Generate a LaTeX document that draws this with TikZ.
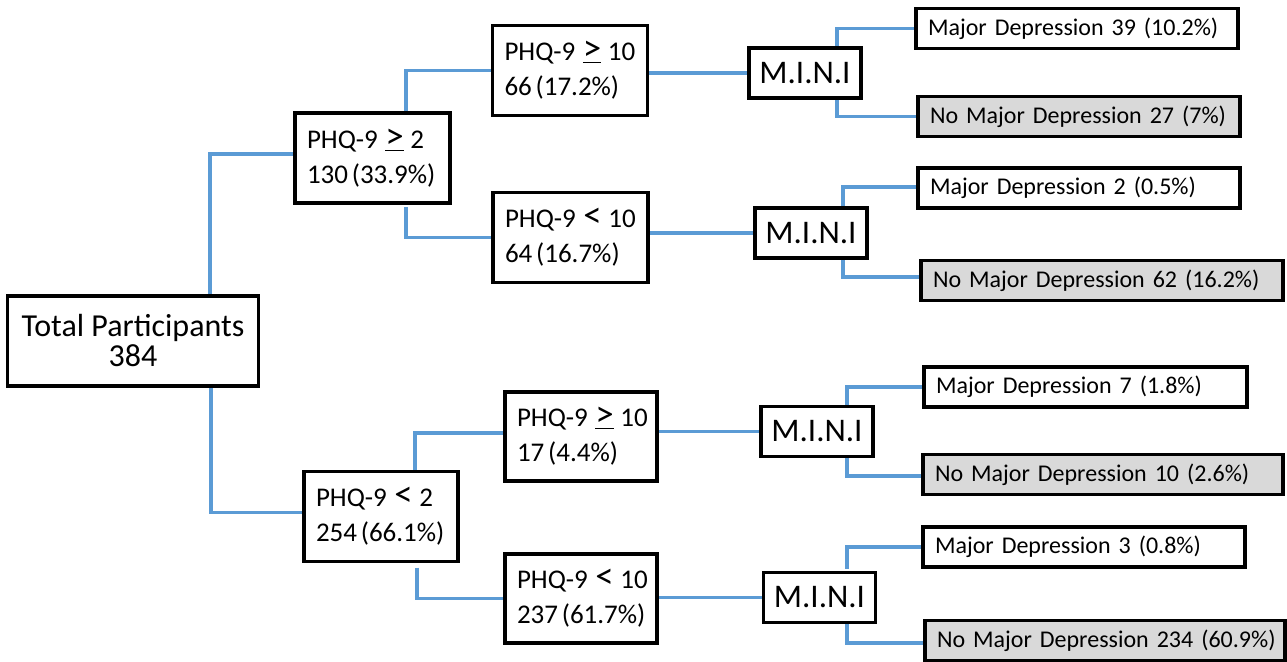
\documentclass[tikz,border=0pt]{standalone}
\usepackage{fontspec}
\setmainfont{Carlito}
\usetikzlibrary{backgrounds}
\definecolor{linkblue}{RGB}{91,155,213}
\definecolor{boxgray}{RGB}{217,217,217}
% comparison signs set larger than the surrounding text
\newcommand{\cmpsign}[1]{\hspace{0.28em}{\fontsize{37}{35}\selectfont#1}\hspace{0.24em}}
% "greater than or equal" written as an underlined >
\newcommand{\geqline}{\hspace{0.28em}\underline{{\fontsize{37}{35}\selectfont>}}\hspace{0.24em}}
\newcommand{\lessthan}{\cmpsign{<}}
% narrow gap between a count and its percentage
\newcommand{\ngap}{\hspace{0.14em}}
\tikzset{
  box/.style={draw=black, fill=white, line width=3.2pt, inner ysep=0pt,
    outer sep=0pt},
  total/.style={box, align=center, inner xsep=0pt, minimum width=251pt,
    minimum height=90pt, font=\fontsize{32}{30}\selectfont},
  phq/.style={box, align=left, inner xsep=12pt, text width=#1,
    minimum height=90pt, font=\fontsize{27}{35}\selectfont},
  mini/.style={box, align=center, inner xsep=0pt, minimum width=112pt,
    minimum height=50pt, font=\fontsize{33}{33}\selectfont},
  res/.style={box, align=left, inner xsep=12pt, text width=#1,
    minimum height=40pt, font=\fontsize{24}{28}\selectfont},
  neg/.style={res=#1, fill=boxgray},
  link/.style={draw=linkblue, line width=3.2pt},
}
\begin{document}
\begin{tikzpicture}[x=1pt, y=-1pt]
\useasboundingbox (0,0) rectangle (1287,661);

% root
\node[total] (T) at (133,341) {Total Participants\\384};

% first PHQ-9 split
\node[phq=131pt] (A1) at (372.5,158) {\mbox{PHQ-9\geqline2}\\\mbox{130\ngap(33.9\%)}};
\node[phq=130pt] (A2) at (381,516.5) {\mbox{PHQ-9\lessthan2}\\\mbox{254\ngap(66.1\%)}};

% second PHQ-9 split
\node[phq=131pt] (B1) at (570,70.5) {\mbox{PHQ-9\geqline10}\\\mbox{66\ngap(17.2\%)}};
\node[phq=131pt] (B2) at (570.5,237.5) {\mbox{PHQ-9\lessthan10}\\\mbox{64\ngap(16.7\%)}};
\node[phq=128pt, minimum height=89pt] (B3) at (581,436.5) {\mbox{PHQ-9\geqline10}\\\mbox{17\ngap(4.4\%)}};
\node[phq=128pt, minimum height=89pt] (B4) at (581,598.5) {\mbox{PHQ-9\lessthan10}\\\mbox{237\ngap(61.7\%)}};

% interviews
\node[mini] (M1) at (805,73) {M.I.N.I};
\node[mini] (M2) at (811,233) {M.I.N.I};
\node[mini] (M3) at (817,431.5) {M.I.N.I};
\node[mini] (M4) at (819.5,597.5) {M.I.N.I};

% outcomes
\node[res=298pt] (C1) at (1077,28.5) {\mbox{Major Depression 39 (10.2\%)}};
\node[neg=298pt] (C2) at (1079,116.5) {\mbox{No Major Depression 27 (7\%)}};
\node[res=298pt] (C3) at (1079,188) {\mbox{Major Depression 2 (0.5\%)}};
\node[neg=338pt] (C4) at (1102,280.5) {\mbox{No Major Depression 62 (16.2\%)}};
\node[res=299pt] (C5) at (1085.5,387) {\mbox{Major Depression 7 (1.8\%)}};
\node[neg=336pt] (C6) at (1103,474.5) {\mbox{No Major Depression 10 (2.6\%)}};
\node[res=298pt] (C7) at (1084,547) {\mbox{Major Depression 3 (0.8\%)}};
\node[neg=336pt] (C8) at (1105,640.5) {\mbox{No Major Depression 234 (60.9\%)}};

\begin{pgfonlayer}{background}
  \fill[white] (0,0) rectangle (1287,661);
  % root to first split
  \draw[link] ([xshift=77pt]T.north) |- ([yshift=4pt]A1.west);
  \draw[link] ([xshift=78pt]T.south) |- ([yshift=4pt]A2.west);
  % first split to second split
  \draw[link] ([xshift=33.5pt]A1.north) |- (B1.west);
  \draw[link] ([xshift=33.5pt,yshift=-4pt]A1.south) |- (B2.west);
  \draw[link] ([xshift=34pt]A2.north) |- ([yshift=3.5pt]B3.west);
  \draw[link] ([xshift=36pt,yshift=-6pt]A2.south) |- (B4.west);
  % second split to interviews
  \draw[link] (M1.west -| B1.east) -- (M1.west);
  \draw[link] (M2.west -| B2.east) -- (M2.west);
  \draw[link] (M3.west -| B3.east) -- (M3.west);
  \draw[link] (M4.west -| B4.east) -- (M4.west);
  % interviews to outcomes
  \draw[link] ([xshift=32pt]M1.north) |- (C1.west);
  \draw[link] ([xshift=32pt]M1.south) |- (C2.west);
  \draw[link] ([xshift=32pt]M2.north) |- ([yshift=1pt]C3.west);
  \draw[link] ([xshift=32pt]M2.south) |- ([yshift=3.5pt]C4.west);
  \draw[link] ([xshift=30pt]M3.north) |- (C5.west);
  \draw[link] ([xshift=30pt]M3.south) |- ([yshift=-1.5pt]C6.west);
  \draw[link] ([xshift=27.5pt,yshift=4pt]M4.north) |- (C7.west);
  \draw[link] ([xshift=27.5pt]M4.south) |- ([yshift=-2.5pt]C8.west);
\end{pgfonlayer}
\end{tikzpicture}
\end{document}
